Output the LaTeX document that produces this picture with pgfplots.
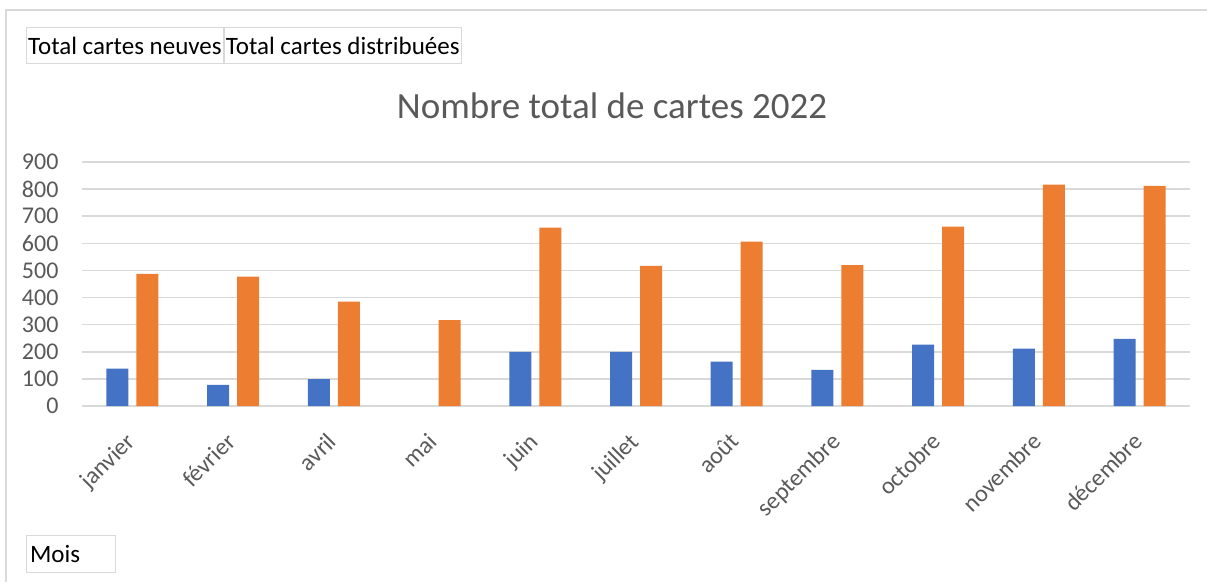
\documentclass[border=0pt]{standalone}
\usepackage{pgfplots}
\pgfplotsset{compat=1.18}
\usepackage{fontspec}
\setmainfont{Carlito}
\definecolor{cblue}{HTML}{4472C4}
\definecolor{corange}{HTML}{ED7D31}
\definecolor{tgrey}{HTML}{595959}
\definecolor{ggrey}{HTML}{D9D9D9}
\begin{document}
\begin{tikzpicture}
\useasboundingbox (0pt,0pt) rectangle (1207pt,-582pt);
\draw[ggrey, line width=1.2pt] (6pt,-582pt) -- (6pt,-10pt) -- (1207pt,-10pt);
\begin{axis}[
  at={(82pt,-406pt)}, anchor=south west,
  scale only axis, width=1108pt, height=244pt,
  ybar=8pt, bar width=22pt,
  xmin=-0.5, xmax=10.5, ymin=0, ymax=900,
  xtick={0,...,10},
  xticklabels={janvier,février,avril,mai,juin,juillet,août,septembre,octobre,novembre,décembre},
  ytick={0,100,...,900},
  major tick length=0pt,
  axis line style={draw=none},
  ymajorgrids, grid style={ggrey, line width=1.5pt},
  /pgf/number format/assume math mode=true,
  ticklabel style={font=\fontsize{24}{29}\selectfont, text=tgrey},
  yticklabel style={anchor=east, xshift=-20pt},
  xticklabel style={rotate=45, anchor=north east, xshift=-20pt, yshift=-9pt},
]
\addplot[fill=cblue, draw=none] coordinates {(0,138) (1,78) (2,99) (4,200) (5,200) (6,164) (7,133) (8,226) (9,212) (10,248)};
\addplot[fill=corange, draw=none] coordinates {(0,487) (1,477) (2,385) (3,317) (4,658) (5,517) (6,606) (7,520) (8,662) (9,817) (10,812)};
\end{axis}
\node[text=tgrey, font=\fontsize{37}{44}\selectfont] at (612pt,-106pt) {Nombre total de cartes 2022};
\node[draw=ggrey, line width=1.2pt, anchor=north west, minimum height=36pt, inner xsep=1.5pt, font=\fontsize{25}{30}\selectfont] (l1) at (26pt,-27pt) {Total cartes neuves};
\node[draw=ggrey, line width=1.2pt, anchor=north west, minimum height=36pt, inner xsep=1.5pt, font=\fontsize{25}{30}\selectfont] at (l1.north east) {Total cartes distribuées};
\node[draw=ggrey, line width=1.2pt, anchor=north west, minimum height=37pt, minimum width=89pt, text width=82pt, inner xsep=2pt, font=\fontsize{25}{30}\selectfont] at (26pt,-535pt) {Mois};
\end{tikzpicture}
\end{document}
